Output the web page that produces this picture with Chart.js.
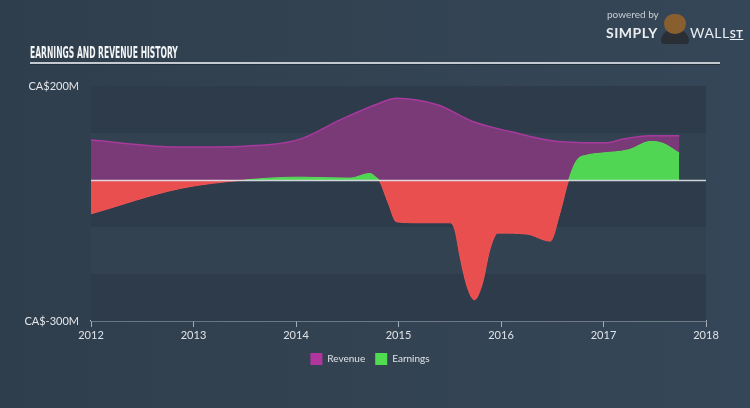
<!DOCTYPE html>
<html>
<head>
<meta charset="utf-8">
<script src="https://cdn.jsdelivr.net/npm/chart.js@4/dist/chart.umd.min.js"></script>
<style>
  html, body { margin: 0; padding: 0; }
  body {
    width: 750px; height: 408px; overflow: hidden; position: relative;
    background: linear-gradient(90deg, #2f3e4c 0%, #334352 50%, #354658 100%);
    font-family: Lato, "Open Sans", sans-serif;
  }
  #chart { position: absolute; left: 0; top: 0; }
  #title {
    position: absolute; left: 30px; top: 43px; white-space: nowrap;
    font-family: "DejaVu Sans Condensed", "DejaVu Sans", sans-serif; font-weight: bold;
    font-size: 16px; color: #f2f4f6; transform-origin: left top;
  }
  #rule { position: absolute; left: 30px; top: 62px; width: 690px; height: 2px; background: #c3c9cf; border-bottom: 1px solid #232f3a; }
  #logo { position: absolute; left: 606px; top: 8px; color: #e9edf0; }
  #logo .pb { position: absolute; left: 1px; top: 0; font-size: 10px; color: #c9cfd5; white-space: nowrap; }
  #logo .simply { position: absolute; left: 0; top: 16px; font-size: 14px; font-weight: bold; letter-spacing: 0.5px; }
  #logo .bull { position: absolute; left: 58px; top: 6px; width: 22px; height: 20px; border-radius: 10px 10px 11px 11px; background: #8a5f30; }
  #logo .body { position: absolute; left: 55px; top: 22px; width: 28px; height: 14px; border-radius: 14px 14px 4px 4px; background: #2a2f35; }
  #logo .wall { position: absolute; left: 84px; top: 16px; font-size: 14px; letter-spacing: 0.5px; white-space: nowrap; }
  #logo .wall u { font-size: 11px; font-weight: bold; }
</style>
</head>
<body>
<canvas id="chart" width="750" height="408"></canvas>
<div id="title">EARNINGS AND REVENUE HISTORY</div>
<div id="rule"></div>
<div id="logo">
  <div class="pb">powered by</div>
  <div class="simply">SIMPLY</div>
  <div class="body"></div>
  <div class="bull"></div>
  <div class="wall">WALL<u>ST</u></div>
</div>
<script>
// values in millions (CA$), x as decimal years
const revenue_years = [2012.0, 2012.87, 2013.5, 2014.04, 2014.43, 2014.82, 2014.98, 2015.38, 2015.73, 2016.09, 2016.55, 2017.03, 2017.19, 2017.45, 2017.74];
const revenue_values = [85, 70, 72, 87, 128, 164, 174, 160, 124, 103, 82, 79, 87, 94, 94];

const earnings_years = [2012.0, 2012.87, 2013.5, 2014.04, 2014.53, 2014.72, 2014.79, 2014.81, 2014.90, 2014.98, 2015.2, 2015.5, 2015.55, 2015.6, 2015.67, 2015.74, 2015.82, 2015.89, 2015.97, 2016.25, 2016.48, 2016.575, 2016.66, 2016.74, 2016.84, 2016.97, 2017.24, 2017.46, 2017.58, 2017.74];
const earnings_values = [-72, -18, 0, 6, 4, 14, 4, 0, -49, -89, -91, -91, -106, -163, -227, -255, -219, -149, -113, -115, -130, -70, 0, 42, 53, 57, 64, 82, 78, 57];

const year_ticks = [2012, 2013, 2014, 2015, 2016, 2017, 2018];
const value_labels = { 200: 'CA$200M', '-300': 'CA$-300M' };

// squeeze title to the narrow width of the original
const title = document.getElementById('title');
title.style.transform = 'scaleX(' + (148 / title.offsetWidth) + ')';

const bands = {
  id: 'bands',
  beforeDatasetsDraw(chart) {
    const { ctx, chartArea, scales } = chart;
    ctx.save();
    for (let v = -300, i = 0; v < 200; v += 100, i++) {
      const y1 = scales.y.getPixelForValue(v + 100);
      const y2 = scales.y.getPixelForValue(v);
      ctx.fillStyle = i % 2 === 0 ? '#2d3b4a' : '#324251';
      ctx.fillRect(chartArea.left, y1, chartArea.right - chartArea.left, y2 - y1);
    }
    ctx.restore();
  }
};

const zero_line = {
  id: 'zero_line',
  afterDatasetsDraw(chart) {
    const { ctx, chartArea, scales } = chart;
    const y = Math.round(scales.y.getPixelForValue(0)) + 0.5;
    ctx.save();
    ctx.strokeStyle = 'rgba(225,230,235,0.9)';
    ctx.lineWidth = 1.5;
    ctx.beginPath();
    ctx.moveTo(chartArea.left, y);
    ctx.lineTo(chartArea.right, y);
    ctx.stroke();
    ctx.restore();
  }
};

const legend_colors = { Revenue: '#b0369e', Earnings: '#4fdc50' };

new Chart(document.getElementById('chart'), {
  type: 'line',
  data: {
    datasets: [{
      label: 'Earnings',
      data: earnings_years.map((x, i) => ({ x: x, y: earnings_values[i] })),
      backgroundColor: '#4fd653',
      fill: { target: 'origin', above: '#50d653', below: '#e94f4f' },
      borderWidth: 1,
      segment: {
        borderColor: c => (c.p0.parsed.y + c.p1.parsed.y) / 2 >= 0 ? '#55dd55' : '#f25555'
      },
      cubicInterpolationMode: 'monotone',
      pointRadius: 0
    }, {
      label: 'Revenue',
      data: revenue_years.map((x, i) => ({ x: x, y: revenue_values[i] })),
      backgroundColor: '#7a3a77',
      borderColor: '#a8399d',
      borderWidth: 1.5,
      fill: 'origin',
      cubicInterpolationMode: 'monotone',
      pointRadius: 0
    }]
  },
  options: {
    responsive: false,
    animation: false,
    layout: { padding: { top: 86, left: 17, right: 27, bottom: 33 } },
    scales: {
      x: {
        type: 'linear',
        min: 2012,
        max: 2018,
        afterBuildTicks: s => { s.ticks = year_ticks.map(v => ({ value: v })); },
        afterFit: s => { s.height = 22; },
        ticks: { color: '#dfe3e7', font: { family: 'Lato', size: 11 }, padding: 2, maxRotation: 0, callback: v => String(v) },
        grid: { drawOnChartArea: false, drawTicks: true, tickLength: 6, color: '#a3adb8' },
        border: { display: true, color: '#a3adb8', width: 1.5 }
      },
      y: {
        min: -300,
        max: 200,
        afterBuildTicks: s => { s.ticks = [{ value: -300 }, { value: 200 }]; },
        afterFit: s => { s.width = 74; },
        ticks: { color: '#e3e6ea', font: { family: 'Lato', size: 11 }, padding: 4, callback: v => value_labels[v] },
        grid: { display: false },
        border: { display: false }
      },
      // empty right axis, only keeps the plot's right edge where the original has it
      y_right: {
        position: 'right',
        min: -300,
        max: 200,
        afterFit: s => { s.width = 17; },
        ticks: { display: false },
        grid: { display: false },
        border: { display: false }
      }
    },
    plugins: {
      legend: {
        position: 'bottom',
        reverse: true,
        labels: {
          color: '#dfe3e7',
          font: { family: 'Lato', size: 10 },
          boxWidth: 12,
          boxHeight: 12,
          padding: 10,
          generateLabels: chart => Chart.defaults.plugins.legend.labels.generateLabels(chart).map(l => {
            l.fillStyle = legend_colors[l.text];
            l.strokeStyle = legend_colors[l.text];
            l.lineWidth = 0;
            return l;
          })
        }
      },
      tooltip: { enabled: false }
    }
  },
  plugins: [bands, zero_line]
});
</script>
</body>
</html>
